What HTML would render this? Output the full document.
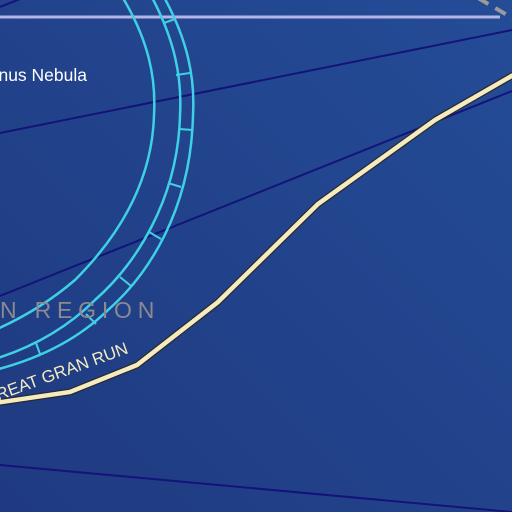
<!DOCTYPE html>
<html><head><meta charset="utf-8"><style>
html,body{margin:0;padding:0;width:512px;height:512px;overflow:hidden;background:#213f88}
svg{display:block}
</style></head><body>
<svg width="512" height="512" viewBox="0 0 512 512">
<defs><linearGradient id="bg" x1="0" y1="1" x2="1" y2="0">
<stop offset="0" stop-color="#1f3a80"/><stop offset="1" stop-color="#244c97"/></linearGradient></defs>
<rect width="512" height="512" fill="url(#bg)"/>
<g stroke="#14137a" stroke-width="2" fill="none">
<line x1="0" y1="7" x2="25" y2="-3"/>
<line x1="0" y1="133" x2="512" y2="30"/>
<line x1="0" y1="296" x2="512" y2="91"/>
<line x1="0" y1="465" x2="512" y2="512"/>
</g>
<line x1="0" y1="17" x2="500" y2="17" stroke="#b4b4e6" stroke-width="3"/>
<line x1="478" y1="-2" x2="514" y2="19" stroke="#9a9a9a" stroke-width="4" stroke-dasharray="12,8"/>
<g stroke="#3fd0e6" stroke-width="2.5" fill="none">
<path d="M118,-10 C150,40 156,80 154,115 C152,190 110,245 75,280 Q40,310 -5,330"/>
<path d="M148,-10 C176,40 182,80 180,115 C178,200 135,265 95,300 Q55,340 -5,359"/>
<path d="M160,-10 C189,40 195,80 193,115 C191,210 148,275 108,310 Q65,352 -5,370"/>
<g stroke-width="2">
<line x1="164" y1="23" x2="175" y2="19"/>
<line x1="176" y1="75" x2="190" y2="73"/>
<line x1="179" y1="129" x2="193" y2="130"/>
<line x1="168" y1="183" x2="181" y2="187"/>
<line x1="149" y1="232" x2="161" y2="239"/>
<line x1="120" y1="277" x2="131" y2="286"/>
<line x1="86" y1="314" x2="96" y2="324"/>
<line x1="36" y1="343" x2="40" y2="354"/>
</g></g>
<path d="M-5,403 L70,392 L137,365 L218,302 L318,204 L435,120 L515,74" fill="none" stroke="#2a2a30" stroke-width="7"/>
<path d="M-5,403 L70,392 L137,365 L218,302 L318,204 L435,120 L515,74" fill="none" stroke="#f4ecc0" stroke-width="4.5"/>
<text x="0" y="0" transform="translate(-14,405) rotate(-20)" font-family="Liberation Sans, sans-serif" font-size="17" fill="#f4ecc0">GREAT GRAN RUN</text>
<text x="0" y="318" font-family="Liberation Sans, sans-serif" font-size="23" letter-spacing="5.8" fill="#8a8a90">N REGION</text>
<text x="87" y="81" text-anchor="end" font-family="Liberation Sans, sans-serif" font-size="17.5" fill="#ffffff">Venus Nebula</text>
</svg>
</body></html>
